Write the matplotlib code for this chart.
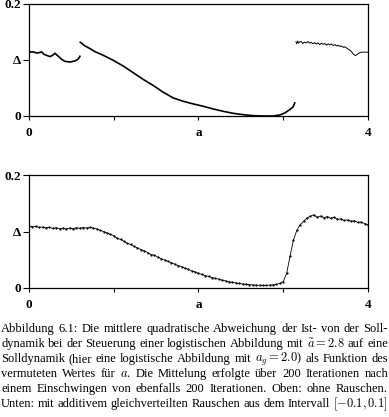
import numpy as np
import matplotlib
matplotlib.use("Agg")
from matplotlib import pyplot as plt

plt.rcParams['font.family'] = ['Liberation Serif', 'DejaVu Serif']
plt.rcParams['mathtext.fontset'] = 'cm'

# top panel (no noise): three separate branches
top1_a = [0.0, 0.051, 0.090, 0.122, 0.149, 0.177, 0.216, 0.248, 0.279, 0.306,
          0.346, 0.385, 0.424, 0.483, 0.542, 0.582, 0.601]
top1_v = [0.1144, 0.1144, 0.1126, 0.1132, 0.1144, 0.1102, 0.1078, 0.1060, 0.1084, 0.1120,
          0.1066, 0.1012, 0.0976, 0.0964, 0.0982, 0.1018, 0.1066]

top2_a = [0.605, 0.660, 0.719, 0.778, 0.876, 0.994, 1.112, 1.230, 1.348, 1.466,
          1.583, 1.701, 1.819, 1.937, 2.055, 2.173, 2.291, 2.409, 2.527, 2.644,
          2.762, 2.880, 2.959, 3.018, 3.077, 3.116, 3.136]
top2_v = [0.1317, 0.1252, 0.1204, 0.1150, 0.1084, 0.0994, 0.0892, 0.0773, 0.0653, 0.0545,
          0.0425, 0.0323, 0.0263, 0.0216, 0.0174, 0.0126, 0.0084, 0.0048, 0.0024, 0.0006,
          0.0, 0.0, 0.0018, 0.0054, 0.0114, 0.0162, 0.0234]

top3_a = [3.15, 3.16, 3.17, 3.18, 3.19, 3.21, 3.23, 3.25, 3.27, 3.29, 3.31, 3.33, 3.35,
          3.37, 3.39, 3.41, 3.43, 3.45, 3.47, 3.49, 3.51, 3.53, 3.55, 3.57, 3.59, 3.61,
          3.63, 3.65, 3.67, 3.69, 3.71, 3.73, 3.75, 3.77, 3.79, 3.81, 3.83, 3.85, 3.87,
          3.89, 3.91, 3.93, 3.96, 4.0]
top3_v = [0.1325, 0.1290, 0.1340, 0.1300, 0.1320, 0.1330, 0.1295, 0.1320, 0.1305, 0.1330,
          0.1300, 0.1315, 0.1290, 0.1310, 0.1285, 0.1305, 0.1275, 0.1300, 0.1280, 0.1295,
          0.1265, 0.1290, 0.1270, 0.1285, 0.1260, 0.1275, 0.1250, 0.1265, 0.1240, 0.1250,
          0.1225, 0.1235, 0.1210, 0.1190, 0.1170, 0.1140, 0.1100, 0.1080, 0.1095, 0.1120,
          0.1135, 0.1140, 0.1140, 0.1140]

# bottom panel (with noise), sampled every 0.04 from 0 to 4
bot_v = [0.1098, 0.1085, 0.1090, 0.1072, 0.1080, 0.1065, 0.1074, 0.1055, 0.1068, 0.1048,
         0.1060, 0.1045, 0.1062, 0.1050, 0.1066, 0.1058, 0.1070, 0.1062, 0.1072, 0.1060,
         0.1045, 0.1020, 0.1000, 0.0975, 0.0950, 0.0925, 0.0880, 0.0860, 0.0825, 0.0790,
         0.0770, 0.0735, 0.0712, 0.0680, 0.0660, 0.0625, 0.0592, 0.0580, 0.0545, 0.0520,
         0.0495, 0.0470, 0.0450, 0.0420, 0.0395, 0.0380, 0.0350, 0.0330, 0.0300, 0.0285,
         0.0260, 0.0240, 0.0220, 0.0205, 0.0185, 0.0170, 0.0155, 0.0140, 0.0125, 0.0110,
         0.0100, 0.0090, 0.0080, 0.0072, 0.0065, 0.0060, 0.0055, 0.0050, 0.0048, 0.0046,
         0.0046, 0.0050, 0.0055, 0.0065, 0.0080, 0.0115, 0.0260, 0.0560, 0.0850, 0.1020,
         0.1120, 0.1180, 0.1240, 0.1270, 0.1295, 0.1250, 0.1275, 0.1245, 0.1265, 0.1235,
         0.1250, 0.1215, 0.1225, 0.1195, 0.1205, 0.1180, 0.1190, 0.1160, 0.1165, 0.1140,
         0.1120]
bot_a = np.linspace(0, 4, len(bot_v))

xtick_pos = [0, 1, 2, 3, 4]
xtick_lab = ['0', '', 'a', '', '4']
ytick_pos = [0, 0.1, 0.2]
ytick_lab = ['0', 'Δ', '0.2']

caption = [
    "Abbildung 6.1: Die mittlere quadratische Abweichung der Ist- von der Soll-",
    r"dynamik bei der Steuerung einer logistischen Abbildung mit $\tilde{a}=2.8$ auf eine",
    r"Solldynamik (hier eine logistische Abbildung mit $a_g=2.0$) als Funktion des",
    r"vermuteten Wertes für $a$. Die Mittelung erfolgte über 200 Iterationen nach",
    "einem Einschwingen von ebenfalls 200 Iterationen. Oben: ohne Rauschen.",
    r"Unten: mit additivem gleichverteilten Rauschen aus dem Intervall $[-0.1,0.1]$",
]

W, H = 389, 417
fig = plt.figure(figsize=(W / 100, H / 100), dpi=100)


def setup(ax):
    ax.set_xlim(0, 4)
    ax.set_ylim(0, 0.2)
    ax.set_xticks(xtick_pos)
    ax.set_xticklabels(xtick_lab, fontsize=9.5, fontweight='bold')
    ax.set_yticks(ytick_pos)
    ax.set_yticklabels(ytick_lab, fontsize=9.5, fontweight='bold')
    ax.tick_params(axis='x', length=3, width=0.8, pad=5)
    ax.tick_params(axis='y', length=4, width=0.8, pad=2)
    for s in ax.spines.values():
        s.set_linewidth(0.9)


ax1 = fig.add_axes([29 / W, 1 - 116 / H, 339 / W, 112 / H])
ax1.plot(top1_a, top1_v, color='black', lw=1.2)
ax1.plot(top2_a, top2_v, color='black', lw=1.2)
ax1.plot(top3_a, top3_v, color='black', lw=0.7)
setup(ax1)

ax2 = fig.add_axes([29 / W, 1 - 288 / H, 339 / W, 113 / H])
ax2.plot(bot_a, bot_v, color='black', lw=0.6, marker='.', ms=1.2)
setup(ax2)

# justified caption: pick one font size so every line fits, then spread words
renderer = fig.canvas.get_renderer()
left, right = 1, 388
base = 10.0
rows = []
scale = 10.0
for line in caption:
    words = line.split(' ')
    texts = [fig.text(0, 0, w, fontsize=base, va='center', ha='left') for w in words]
    widths = [t.get_window_extent(renderer).width for t in texts]
    space = 0.25 * base * 100 / 72
    natural = sum(widths) + space * (len(words) - 1)
    scale = min(scale, (right - left) / natural)
    rows.append(texts)

size = base * scale
y0 = 329
for i, texts in enumerate(rows):
    for t in texts:
        t.set_fontsize(size)
    widths = [t.get_window_extent(renderer).width for t in texts]
    gap = (right - left - sum(widths)) / (len(texts) - 1)
    x = left
    y = y0 + i * 15
    for t, w in zip(texts, widths):
        t.set_position((x / W, 1 - y / H))
        x += w + gap

fig.savefig('out.png', dpi=100)
